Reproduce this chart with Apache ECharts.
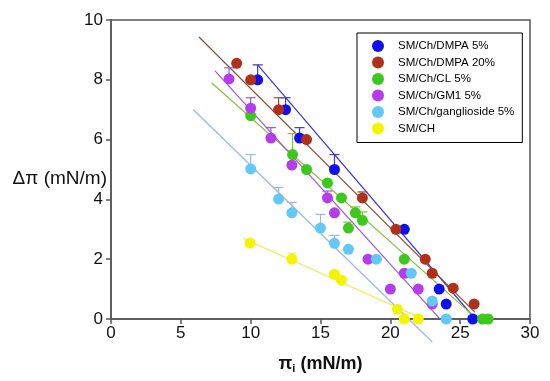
<!DOCTYPE html>
<html><head><meta charset="utf-8">
<script src="https://cdn.jsdelivr.net/npm/echarts@6/dist/echarts.min.js"></script>
<style>html,body{margin:0;padding:0;background:#fff}#c{width:550px;height:381px}</style>
</head><body><div id="c"></div>
<script>
const seriesNames = ['SM/Ch/DMPA 5%','SM/Ch/DMPA 20%','SM/Ch/CL 5%','SM/Ch/GM1 5%','SM/Ch/ganglioside 5%','SM/CH'];
const xTicks = [0,5,10,15,20,25,30];
const yTicks = [0,2,4,6,8,10];

const ptsDMPA5 = [[10.5,8.0],[12.5,7.0],[13.5,6.05],[16.0,5.0],[21.0,3.0],[23.5,1.0],[24.0,0.5],[25.9,0.0]];
const ptsDMPA20 = [[9.0,8.55],[10.0,8.0],[12.0,7.0],[14.0,6.0],[18.0,4.05],[20.4,3.0],[22.5,2.0],[23.0,1.53],[24.5,1.03],[26.0,0.5]];
const ptsCL5 = [[10.0,6.8],[13.0,5.5],[14.0,5.0],[15.5,4.55],[16.5,4.05],[17.5,3.55],[18.0,3.3],[17.0,3.04],[21.0,2.0],[26.6,0.0],[27.0,0.0]];
const ptsGM1 = [[8.45,8.03],[10.0,7.05],[11.45,6.05],[12.95,5.15],[15.5,4.05],[16.0,3.55],[18.4,2.0],[21.0,1.53],[20.0,1.0],[22.0,1.0],[23.0,0.5]];
const ptsGang = [[10.0,5.02],[12.0,4.01],[12.95,3.55],[15.0,3.04],[16.0,2.53],[17.0,2.33],[19.0,2.0],[21.5,1.53],[23.0,0.6],[24.0,0.0]];
const ptsSMCH = [[9.95,2.54],[12.95,2.0],[16.0,1.5],[16.5,1.3],[20.5,0.33],[21.0,0.0],[22.0,0.0]];

// error bars: [x, y, top]
const errDMPA5 = [[10.5,8.0,8.5],[12.5,7.0,7.4],[13.5,6.05,6.4],[16.0,5.0,5.5]];
const errDMPA20 = [[12.0,7.0,7.4],[18.0,4.05,4.25]];
const errCL5 = [[13.0,5.5,6.2],[17.5,3.55,3.75],[18.0,3.3,3.58],[17.0,3.04,3.24]];
const errGM1 = [[8.45,8.03,8.4],[10.0,7.05,7.4],[11.45,6.05,6.4],[15.5,4.05,4.28]];
const errGang = [[10.0,5.02,5.5],[12.0,4.01,4.4],[12.95,3.55,3.9],[15.0,3.04,3.5],[16.0,2.53,2.8]];
const errSMCH = [[12.95,2.0,2.2]];

// fitted lines (endpoints)
const fitDMPA5 = [[10.5,8.5],[25.9,0.1]];
const fitDMPA20 = [[6.3,9.43],[26.05,0.23]];
const fitCL5 = [[7.2,7.9],[25.9,0.13]];
const fitGM1 = [[7.45,8.3],[23.5,0.03]];
const fitGang = [[5.9,7.0],[23.0,-0.77]];
const fitSMCH = [[9.45,2.7],[22.0,0.07]];

const markerColors = ['#1010ee','#b0301a','#3cc81c','#b53cec','#62c8f8','#f4f400'];
const lineColors = ['#3a3ac8','#8e5030','#8cbc40','#9a5ad8','#98b8e8','#eeee50'];

const pts = [ptsDMPA5,ptsDMPA20,ptsCL5,ptsGM1,ptsGang,ptsSMCH];
const errs = [errDMPA5,errDMPA20,errCL5,errGM1,errGang,errSMCH];
const fits = [fitDMPA5,fitDMPA20,fitCL5,fitGM1,fitGang,fitSMCH];

const series = [];
fits.forEach((f,i)=>{
  series.push({type:'line', data:f, symbol:'none', clip:false, silent:true, z:3,
    lineStyle:{color:lineColors[i], width:1.2}, animation:false});
});
errs.forEach((e,i)=>{
  series.push({type:'custom', data:e, z:4, animation:false, silent:true,
    renderItem:function(params, api){
      const p0 = api.coord([api.value(0), api.value(1)]);
      const p1 = api.coord([api.value(0), api.value(2)]);
      const c = lineColors[i];
      return {type:'group', children:[
        {type:'line', shape:{x1:p0[0],y1:p0[1],x2:p1[0],y2:p1[1]}, style:{stroke:c, lineWidth:1.2}},
        {type:'line', shape:{x1:p1[0]-5,y1:p1[1],x2:p1[0]+5,y2:p1[1]}, style:{stroke:c, lineWidth:1.2}}
      ]};
    }});
});
pts.forEach((p,i)=>{
  series.push({type:'scatter', name:seriesNames[i], data:p, symbol:'circle', symbolSize:11, z:5,
    itemStyle:{color:markerColors[i], opacity:1}, animation:false});
});

const chart = echarts.init(document.getElementById('c'), null, {renderer:'canvas'});
chart.setOption({
  backgroundColor:'#fff',
  animation:false,
  grid:{left:111, right:20, top:20, bottom:62, containLabel:false, outerBoundsMode:'none',
    show:true, borderColor:'#555', borderWidth:1.5, backgroundColor:'transparent'},
  legend:{
    data:seriesNames, orient:'vertical', left:357, top:33,
    padding:[7,8,8,15], itemGap:4.5, itemWidth:12, itemHeight:12, icon:'circle',
    borderColor:'#000', borderWidth:1, backgroundColor:'#fff',
    textStyle:{fontFamily:'Liberation Sans', fontSize:11.5, color:'#000', padding:[0,0,0,9]}
  },
  xAxis:{type:'value', min:xTicks[0], max:xTicks[xTicks.length-1], interval:5,
    axisLine:{show:true, onZero:false, lineStyle:{color:'#555', width:1.5}},
    axisTick:{show:true, inside:false, length:5, lineStyle:{color:'#555', width:1.5}},
    splitLine:{show:false},
    axisLabel:{fontFamily:'Liberation Sans', fontSize:17, color:'#111', margin:6},
    name:'{a|π}{s|i}{a| (mN/m)}', nameLocation:'middle', nameGap:36, nameMoveOverlap:false,
    nameTextStyle:{rich:{a:{fontFamily:'Liberation Sans', fontSize:18, fontWeight:'bold', color:'#111'},
      s:{fontFamily:'Liberation Sans', fontSize:11, fontWeight:'bold', color:'#111', verticalAlign:'bottom', padding:[8,0,0,0]}}}
  },
  yAxis:{type:'value', min:yTicks[0], max:yTicks[yTicks.length-1], interval:2,
    axisLine:{show:true, onZero:false, lineStyle:{color:'#555', width:1.5}},
    axisTick:{show:true, inside:false, length:5, lineStyle:{color:'#555', width:1.5}},
    splitLine:{show:false},
    axisLabel:{fontFamily:'Liberation Sans', fontSize:17, color:'#111', margin:8},
    name:'Δπ (mN/m)', nameLocation:'middle', nameRotate:0, nameGap:4, nameMoveOverlap:false,
    nameTextStyle:{fontFamily:'Liberation Sans', fontSize:19, color:'#111', align:'right', verticalAlign:'top'}
  },
  series:series
});
</script></body></html>
